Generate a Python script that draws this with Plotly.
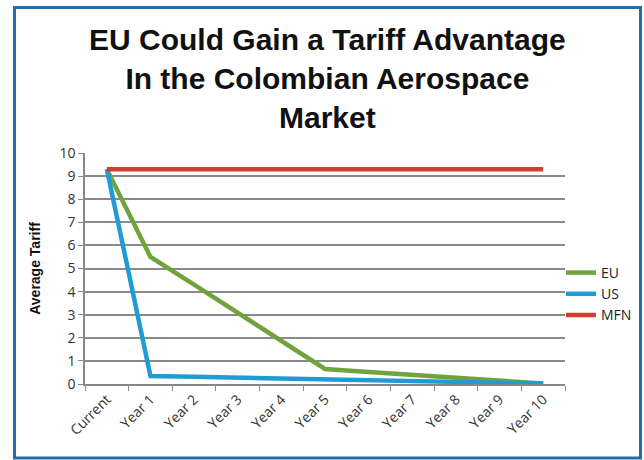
import plotly.graph_objects as go

categories = ["Current", "Year 1", "Year 2", "Year 3", "Year 4", "Year 5",
              "Year 6", "Year 7", "Year 8", "Year 9", "Year 10"]
eu = [9.3, 5.5, 4.3, 3.1, 1.85, 0.65, 0.52, 0.4, 0.27, 0.14, 0.02]
us = [9.3, 0.35, 0.31, 0.27, 0.23, 0.19, 0.16, 0.12, 0.08, 0.05, 0.02]
mfn = [9.3, 9.3, 9.3, 9.3, 9.3, 9.3, 9.3, 9.3, 9.3, 9.3, 9.3]
y_ticks = list(range(0, 11))

W, H = 644, 460
L, R, T, B = 85, 79, 153, 76
pw, ph = W - L - R, H - T - B


def px(x):
    return (x - L) / pw


def py(y):
    return (H - B - y) / ph


fig = go.Figure()
fig.add_trace(go.Scatter(x=categories, y=eu, name="EU", mode="lines",
                         line=dict(color="#70a33c", width=4.5)))
fig.add_trace(go.Scatter(x=categories, y=us, name="US", mode="lines",
                         line=dict(color="#1f9bd5", width=4.5)))
fig.add_trace(go.Scatter(x=categories, y=mfn, name="MFN", mode="lines",
                         line=dict(color="#d43d2e", width=4.5)))

fig.update_layout(
    width=W, height=H,
    margin=dict(l=L, r=R, t=T, b=B, autoexpand=False),
    paper_bgcolor="white", plot_bgcolor="white",
    showlegend=True,
    legend=dict(x=px(561), y=py(294), xanchor="left", yanchor="middle",
                itemwidth=30,
                font=dict(family="Open Sans, Arial", size=14, color="#222"),
                bgcolor="rgba(0,0,0,0)", tracegroupgap=0),
    font=dict(family="Open Sans, Arial", color="#333"),
    annotations=[
        dict(text="<b>EU Could Gain a Tariff Advantage<br>In the Colombian Aerospace<br>Market</b>",
             xref="paper", yref="paper", x=px(327), y=py(79), xanchor="center", yanchor="middle",
             showarrow=False,
             font=dict(family="Liberation Sans, Arial", size=30, color="#111"),
             ),
    ],
    shapes=[
        dict(type="rect", xref="paper", yref="paper",
             x0=px(14.5), x1=px(640.5), y0=py(458), y1=py(7.5),
             line=dict(color="#1f6db2", width=3), layer="below"),
    ],
)

fig.update_xaxes(
    type="category", range=[-0.5, 10.5],
    tickson="boundaries", ticks="outside", ticklen=5, tickcolor="#888",
    showline=True, linecolor="#888", linewidth=1.5,
    showgrid=False, tickangle=-45,
    tickfont=dict(family="Open Sans, Arial", size=14, color="#333"),
)
fig.update_yaxes(
    range=[0, 10], tickvals=y_ticks, ticktext=[str(v) for v in y_ticks],
    ticks="outside", ticklen=5, tickcolor="#888",
    showline=True, linecolor="#888", linewidth=1.5,
    showgrid=True, gridcolor="#8a8a8a", gridwidth=1.5,
    zeroline=False,
    tickfont=dict(family="Open Sans, Arial", size=14, color="#333"),
    title=dict(text="<b>Average Tariff</b>", standoff=16,
               font=dict(family="Liberation Sans, Arial", size=14, color="#111")),
)

fig.write_html("out.html", config={"displayModeBar": False},
               post_script="document.body.style.margin='0';")
